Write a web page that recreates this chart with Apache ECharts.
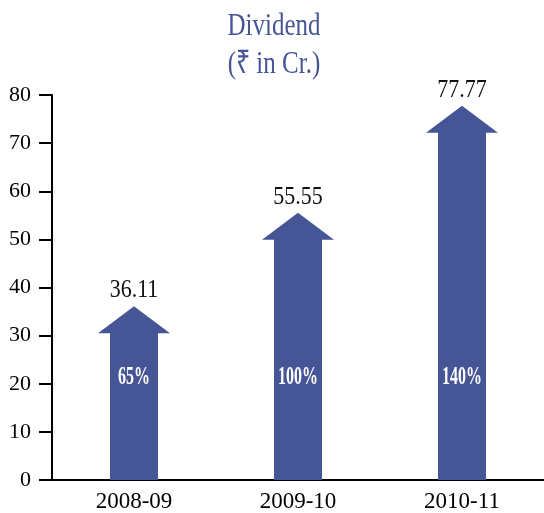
<!DOCTYPE html>
<html>
<head>
<meta charset="utf-8">
<script src="https://cdn.jsdelivr.net/npm/echarts@6/dist/echarts.min.js"></script>
<style>
html,body{margin:0;padding:0;background:#fff}
#chart{width:544px;height:513px}
</style>
</head>
<body>
<div id="chart"></div>
<script>
var years = ['2008-09', '2009-10', '2010-11']
var dividend = [36.11, 55.55, 77.77]
var payout = ['65%', '100%', '140%']
var yTicks = [0, 80, 10]

var blue = '#455596'
var serif = '"Liberation Serif", "Times New Roman", serif'

var myChart = echarts.init(document.getElementById('chart'))

// arrow shaped bar + value on top + payout % inside
function drawArrow(params, api) {
    var i = api.value(0)
    var v = api.value(1)
    var tip = api.coord([i, v])
    var base = api.coord([i, 0])
    var x = tip[0]
    var shaftW = 24, headW = 36, headH = 27
    var hb = tip[1] + headH
    return {
        type: 'group',
        children: [
            {
                type: 'polygon',
                shape: {
                    points: [
                        [x - shaftW, base[1]], [x - shaftW, hb], [x - headW, hb],
                        [x, tip[1]],
                        [x + headW, hb], [x + shaftW, hb], [x + shaftW, base[1]]
                    ]
                },
                style: { fill: blue }
            },
            {
                type: 'text',
                x: x, y: tip[1] - 3, scaleY: 1.15,
                style: {
                    text: v.toFixed(2), fill: '#111', font: '22px ' + serif,
                    align: 'center', verticalAlign: 'bottom'
                }
            },
            {
                type: 'text',
                x: x, y: base[1] - 103, scaleY: 1.6,
                style: {
                    text: payout[i], fill: '#fff', font: 'bold 16px ' + serif,
                    align: 'center', verticalAlign: 'middle'
                }
            }
        ]
    }
}

var option = {
    animation: false,
    graphic: [
        {
            type: 'text', x: 274, y: 26, scaleY: 1.3,
            style: { text: 'Dividend', fill: blue, font: '25px ' + serif, align: 'center', verticalAlign: 'middle' }
        },
        {
            type: 'text', x: 274, y: 64, scaleY: 1.3,
            style: { text: '(₹ in Cr.)', fill: blue, font: '25px ' + serif, align: 'center', verticalAlign: 'middle' }
        }
    ],
    grid: { left: 52, right: 0, top: 95, bottom: 32 },
    xAxis: {
        type: 'category',
        data: years,
        axisLine: { lineStyle: { color: '#000', width: 2 } },
        axisTick: { show: false },
        axisLabel: { color: '#000', fontFamily: serif, fontSize: 23, margin: 10 }
    },
    yAxis: {
        type: 'value',
        min: yTicks[0], max: yTicks[1], interval: yTicks[2],
        splitLine: { show: false },
        axisLine: { show: true, lineStyle: { color: '#000', width: 2 } },
        axisTick: { show: true, length: 13, lineStyle: { color: '#000', width: 2 } },
        axisLabel: { color: '#000', fontFamily: serif, fontSize: 22, margin: 21 }
    },
    series: [{
        type: 'custom',
        renderItem: drawArrow,
        data: dividend.map(function (d, i) { return [i, d] })
    }]
}

myChart.setOption(option)
</script>
</body>
</html>
